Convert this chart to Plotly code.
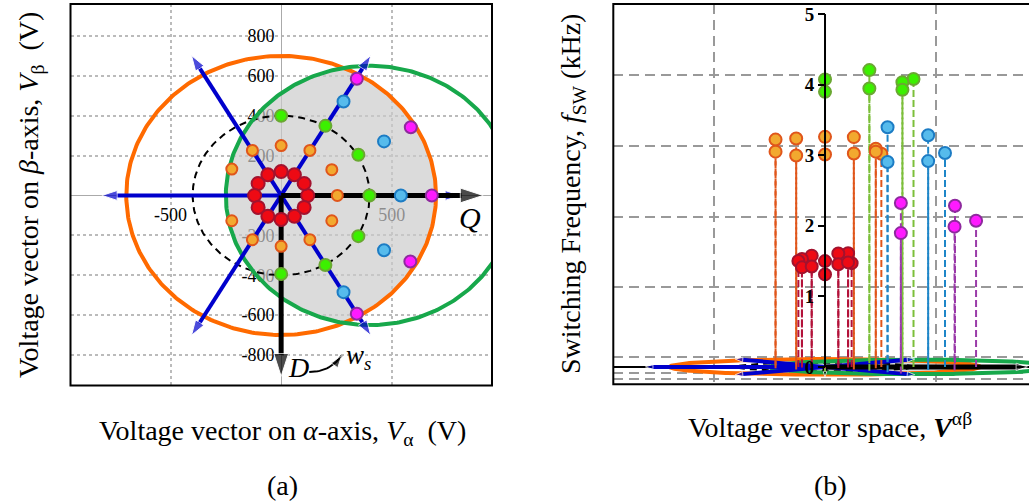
import numpy as np
import plotly.graph_objects as go

# ---------------- data ----------------
RED_ALPHA = [120, 104, 60, 0, -60, -104, -120, -104, -60, 0, 60, 104]
RED_BETA = [0, 60, 104, 120, 104, 60, 0, -60, -104, -120, -104, -60]
RED_FSW = [1.47, 1.60, 1.59, 1.48, 1.56, 1.52, 1.50, 1.42, 1.44, 1.33, 1.47, 1.49]

ORANGE_ALPHA = [254, 229, 130, 0, -130, -223, -223, -130, 0, 130, 229]
ORANGE_BETA = [0, 129, 226, 250, 226, 132, -127, -222, -255, -222, -127]
ORANGE_FSW = [3.02, 3.07, 3.22, 3.22, 3.20, 3.20, 3.07, 3.03, 3.05, 3.06, 3.07]

GREEN_ALPHA = [399, 349, 200, 0, 0, 200, 349]
GREEN_BETA = [0, 204, 349, 400, -394, -349, -204]
GREEN_FSW = [4.08, 4.00, 4.15, 4.01, 3.96, 4.00, 3.96]

CYAN_ALPHA = [541, 465, 282, 282, 465]
CYAN_BETA = [0, 271, 471, -485, -275]
CYAN_FSW = [3.03, 3.24, 3.32, 2.98, 2.96]

MAGENTA_ALPHA = [681, 586, 342, 342, 584]
MAGENTA_BETA = [0, 342, 585, -593, -331]
MAGENTA_FSW = [2.07, 2.23, 2.23, 1.99, 2.04]

ORANGE_CIRCLE = (0, 0, 700)      # centre alpha, centre beta, radius
GREEN_CIRCLE = (400, 0, 650)
DASHED_CIRCLE = (0, 0, 400)
VECTOR_ANGLES = [0, 60, 120, 180, 240, 300]
VECTOR_LENGTH = 810
Q_LENGTH = 913
D_LENGTH = 907

A_XTICKS = [-500, 500]
A_XTICKTEXT = ["-500", "500"]
A_YTICKS = [-800, -600, -400, -200, 200, 400, 600, 800]
A_YTICKTEXT = ["-800", "-600", "-400", "-200", "200", "400", "600", "800"]
B_ZTICKS = [0, 1, 2, 3, 4, 5]
B_XGRID = [-500, 500]
B_ZGRID = [4.136, 3.134, 2.128, 1.128, 0.136, -0.082, -0.167]

FLOOR_SCALE = 1.587e-4   # beta (V) -> apparent height (kHz) in the edge-on 3-D view

# ---------------- helpers ----------------
W, H = 1029, 501
def PX(x):
    return x / W
def PY(y):
    return 1 - y / H

FONT = "Liberation Serif"
BLUE = "#0000cc"
ORANGE_LINE = "#ff6a00"
GREEN_LINE = "#17a84b"

def circle(c, n=361):
    t = np.linspace(0, 2 * np.pi, n)
    return c[0] + c[2] * np.cos(t), c[1] + c[2] * np.sin(t)

def lens(c1, c2, n=181):
    d = c2[0] - c1[0]
    xi = (d ** 2 + c1[2] ** 2 - c2[2] ** 2) / (2 * d)
    yi = np.sqrt(c1[2] ** 2 - xi ** 2)
    t1 = np.arctan2(yi, xi)
    t2 = np.arctan2(yi, xi - d)
    a = np.linspace(-t1, t1, n)
    b = np.linspace(t2, 2 * np.pi - t2, n)
    xs = np.concatenate([c1[0] + c1[2] * np.cos(a), c2[0] + c2[2] * np.cos(b)])
    ys = np.concatenate([c1[1] + c1[2] * np.sin(a), c2[1] + c2[2] * np.sin(b)])
    return xs, ys

fig = go.Figure()

def both(xs, ys, marker_a=None, marker_b=None, **kw):
    xs = np.asarray(xs, dtype=float)
    ys = np.asarray(ys, dtype=float)
    ka = dict(kw); kb = dict(kw)
    if marker_a is not None:
        ka["marker"] = marker_a
    if marker_b is not None:
        kb["marker"] = marker_b
    fig.add_trace(go.Scatter(x=xs, y=ys, xaxis="x", yaxis="y", **ka))
    fig.add_trace(go.Scatter(x=xs, y=ys * FLOOR_SCALE, xaxis="x2", yaxis="y2", **kb))

def arrow_marker(color, size):
    return dict(symbol=["circle", "arrow"], size=[0, size], color=color, angleref="previous")

# ---------------- floor / vector-space geometry ----------------
lx, ly = lens(ORANGE_CIRCLE, GREEN_CIRCLE)
both(lx, ly, mode="lines", fill="toself", fillcolor="rgba(203,203,203,0.69)",
     line=dict(width=0), hoverinfo="skip")

dx, dy = circle(DASHED_CIRCLE)
both(dx, dy, mode="lines", line=dict(color="black", width=2, dash="7px,5px"))

ox, oy = circle(ORANGE_CIRCLE)
both(ox, oy, mode="lines", line=dict(color=ORANGE_LINE, width=4))
gx, gy = circle(GREEN_CIRCLE)
both(gx, gy, mode="lines", line=dict(color=GREEN_LINE, width=4))

for ang in VECTOR_ANGLES:
    r = np.deg2rad(ang)
    both([0, VECTOR_LENGTH * np.cos(r)], [0, VECTOR_LENGTH * np.sin(r)],
         mode="lines+markers", line=dict(color=BLUE, width=4),
         marker_a=arrow_marker(BLUE, 16), marker_b=arrow_marker(BLUE, 8))

both([0, Q_LENGTH], [0, 0], mode="lines+markers", line=dict(color="black", width=5),
     marker_a=arrow_marker("black", 24), marker_b=arrow_marker("black", 12))
both([0, 0], [0, -D_LENGTH], mode="lines+markers", line=dict(color="black", width=5),
     marker_a=arrow_marker("black", 24), marker_b=arrow_marker("black", 6))

# ---------------- z axis line of panel (b) ----------------
fig.add_trace(go.Scatter(x=[0, 0], y=[min(B_ZTICKS), max(B_ZTICKS)], xaxis="x2", yaxis="y3",
                         mode="lines", line=dict(color="black", width=2)))

# ---------------- vectors: points (a) and stems (b) ----------------
GROUPS = [
    (ORANGE_ALPHA, ORANGE_BETA, ORANGE_FSW, "#f2a92f", "#e0561b", "#e0561b", 11),
    (GREEN_ALPHA, GREEN_BETA, GREEN_FSW, "#3cf000", "#6aa832", "#7cbf3a", 12),
    (CYAN_ALPHA, CYAN_BETA, CYAN_FSW, "#56bbec", "#1c7cc4", "#1f86c8", 12),
    (MAGENTA_ALPHA, MAGENTA_BETA, MAGENTA_FSW, "#ff1aff", "#8e2a9e", "#9a3aa8", 12),
    (RED_ALPHA, RED_BETA, RED_FSW, "#ee0a14", "#a3122e", "#b3123a", 13),
]

for a, b, f, fillc, edgec, stemc, sz in GROUPS:
    a = np.asarray(a, float); b = np.asarray(b, float); f = np.asarray(f, float)
    sx, sy = [], []
    for ai, bi, fi in zip(a, b, f):
        sx += [ai, ai, None]
        sy += [bi * FLOOR_SCALE, bi * FLOOR_SCALE + fi, None]
    fig.add_trace(go.Scatter(x=sx, y=sy, xaxis="x2", yaxis="y2", mode="lines",
                             line=dict(color=stemc, width=2, dash="7px,3px")))

for a, b, f, fillc, edgec, stemc, sz in GROUPS:
    a = np.asarray(a, float); b = np.asarray(b, float); f = np.asarray(f, float)
    fig.add_trace(go.Scatter(x=a, y=b, xaxis="x", yaxis="y", mode="markers",
                             marker=dict(size=sz, color=fillc, line=dict(color=edgec, width=2))))
    fig.add_trace(go.Scatter(x=a, y=b * FLOOR_SCALE + f, xaxis="x2", yaxis="y2", mode="markers",
                             marker=dict(size=12, color=fillc, line=dict(color=edgec, width=2))))

# ---------------- w_s curved arrow (annotation decoration) ----------------
WS_START = (127, -885)
WS_CTRL = (221, -886)
WS_END = (274, -802)
t = np.linspace(0, 1, 20)
cx = (1 - t) ** 2 * WS_START[0] + 2 * (1 - t) * t * WS_CTRL[0] + t ** 2 * WS_END[0]
cy = (1 - t) ** 2 * WS_START[1] + 2 * (1 - t) * t * WS_CTRL[1] + t ** 2 * WS_END[1]
sizes = [0] * (len(t) - 1) + [13]
fig.add_trace(go.Scatter(x=cx, y=cy, xaxis="x", yaxis="y", mode="lines+markers",
                         line=dict(color="black", width=2),
                         marker=dict(symbol="arrow", size=sizes, color="black", angleref="previous")))

# ---------------- layout ----------------
tickfont = dict(family=FONT, size=18, color="black")
fig.update_layout(
    width=W, height=H, margin=dict(l=0, r=0, t=0, b=0),
    paper_bgcolor="white", plot_bgcolor="white", showlegend=False,
    xaxis=dict(domain=[PX(70.5), PX(492)], range=[-952, 953], anchor="free", position=PY(195.5),
               tickvals=A_XTICKS, ticktext=A_XTICKTEXT, tickfont=tickfont,
               ticks="outside", ticklen=3, tickcolor="rgba(0,0,0,0)",
               showgrid=True, gridcolor="#bbbbbb", griddash="dot", gridwidth=1.5,
               zeroline=True, zerolinecolor="#aaaaaa", zerolinewidth=1,
               showline=False, layer="below traces"),
    yaxis=dict(domain=[PY(385.5), PY(4)], range=[-953, 960], anchor="free", position=PX(281),
               tickvals=A_YTICKS, ticktext=A_YTICKTEXT, tickfont=tickfont,
               ticks="outside", ticklen=3, tickcolor="rgba(0,0,0,0)",
               showgrid=True, gridcolor="#bbbbbb", griddash="dot", gridwidth=1.5,
               zeroline=True, zerolinecolor="#aaaaaa", zerolinewidth=1,
               showline=False, layer="below traces"),
    xaxis2=dict(domain=[PX(613.3), 1.0], range=[-954.5, 919.7], anchor="y2",
                tickvals=B_XGRID, showticklabels=False, ticks="",
                showgrid=True, gridcolor="#999999", griddash="10px,6px", gridwidth=2,
                zeroline=False, showline=False),
    yaxis2=dict(domain=[PY(384.3), PY(4)], range=[-0.2465, 5.142], anchor="x2",
                tickvals=B_ZGRID, showticklabels=False, ticks="",
                showgrid=True, gridcolor="#999999", griddash="10px,6px", gridwidth=2,
                zeroline=True, zerolinecolor="black", zerolinewidth=1.5, showline=False),
    yaxis3=dict(overlaying="y2", anchor="free", position=PX(825), side="left",
                range=[-0.2465, 5.142], tickvals=B_ZTICKS,
                tickfont=dict(family=FONT, size=19, color="black", weight="bold"),
                ticks="outside", ticklen=7, tickwidth=2, tickcolor="black",
                showgrid=False, zeroline=False, showline=False),
)

fig.add_shape(type="rect", xref="paper", yref="paper", x0=PX(70.5), x1=PX(492),
              y0=PY(385.5), y1=PY(4), line=dict(color="black", width=2))
fig.add_shape(type="rect", xref="paper", yref="paper", x0=PX(613.3), x1=1.05,
              y0=PY(384.3), y1=PY(4), line=dict(color="black", width=2))

def pann(text, x, y, size=28, angle=0):
    fig.add_annotation(text=text, x=PX(x), y=PY(y), xref="paper", yref="paper",
                       showarrow=False, textangle=angle,
                       font=dict(family=FONT, size=size, color="black"),
                       xanchor="center", yanchor="middle")

pann("Voltage vector on <i>α</i>-axis, <i>V</i><sub>α</sub>  (V)", 282.5, 432)
pann("(a)", 282, 485, 28)
pann("Voltage vector space, <b><i>V</i></b><sup>αβ</sup>", 830, 425)
pann("(b)", 830, 485, 28)
pann("Voltage vector on <i>β</i>-axis, <i>V</i><sub>β</sub>  (V)", 30, 195, 28, -90)
pann("Switching Frequency, <i>f</i><sub>SW</sub> (kHz)", 572, 194, 28, -90)

def dann(text, x, y, size):
    fig.add_annotation(text=text, x=x, y=y, xref="x", yref="y", showarrow=False,
                       font=dict(family=FONT, size=size, color="black"))

dann("<i>Q</i>", 854, -113, 30)
dann("<i>D</i>", 77, -865, 28)
dann("<i>w<sub>s</sub></i>", 350, -812, 27)

fig.write_html("out.html")
